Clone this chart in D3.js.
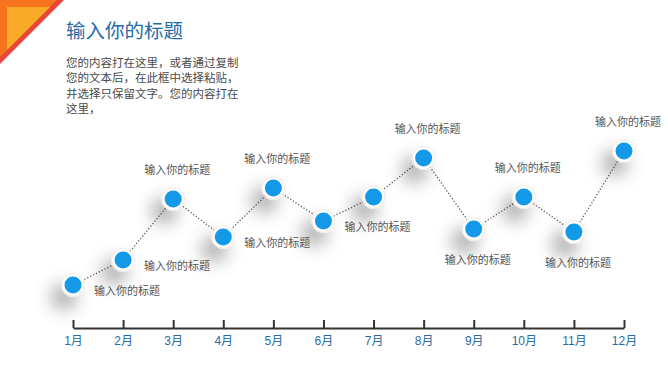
<!DOCTYPE html>
<html>
<head>
<meta charset="utf-8">
<script src="https://cdn.jsdelivr.net/npm/d3@7/dist/d3.min.js"></script>
<style>
  body { margin: 0; background: #fff; }
  svg { display: block; font-family: "Noto Sans CJK SC", "Noto Sans", sans-serif; }
</style>
</head>
<body>
<script>
let months = ["1月", "2月", "3月", "4月", "5月", "6月", "7月", "8月", "9月", "10月", "11月", "12月"];
let values = [7.5, 20, 50.5, 31.5, 56, 39.5, 51.5, 71, 35.5, 51.5, 34, 74.5];
let labelText = "输入你的标题";
let labelPlaces = ["right", "right", "above", "right", "above", "right", "none", "above", "below", "above", "below", "above"];
let title = "输入你的标题";
let bodyLines = [
    "您的内容打在这里，或者通过复制",
    "您的文本后，在此框中选择粘贴，",
    "并选择只保留文字。您的内容打在",
    "这里，"
];

let width = 668, height = 376;
let svg = d3.select("body").append("svg").attr("width", width).attr("height", height);

// corner decoration
svg.append("polygon").attr("points", "0,0 64,0 0,64").attr("fill", "#e9463b");
svg.append("polygon").attr("points", "0,0 57,0 0,57").attr("fill", "#f7731d");
svg.append("polygon").attr("points", "7,7 50,7 7,50").attr("fill", "#f8ab27");

svg.append("text").attr("x", 66).attr("y", 38)
    .attr("font-size", 19.5).attr("fill", "#1f6ca8").text(title);

svg.append("g").selectAll("text").data(bodyLines).join("text")
    .attr("x", 66).attr("y", (d, i) => 67 + i * 15.3)
    .attr("font-size", 11.5).attr("fill", "#4a4a4a").text(d => d);

let x = d3.scalePoint().domain(months).range([73, 624]);
let y = d3.scaleLinear().domain([0, 100]).range([300, 100]);

let defs = svg.append("defs");
let f = defs.append("filter").attr("id", "shadow")
    .attr("x", "-300%").attr("y", "-300%").attr("width", "700%").attr("height", "700%");
f.append("feGaussianBlur").attr("in", "SourceAlpha").attr("stdDeviation", 9).attr("result", "b");
f.append("feOffset").attr("in", "b").attr("dx", -9).attr("dy", 12).attr("result", "o");
f.append("feFlood").attr("flood-color", "#000").attr("flood-opacity", 0.38).attr("result", "c");
f.append("feComposite").attr("in", "c").attr("in2", "o").attr("operator", "in").attr("result", "s");
let m = f.append("feMerge");
m.append("feMergeNode").attr("in", "s");
m.append("feMergeNode").attr("in", "SourceGraphic");

// axis
let xAxis = d3.axisBottom(x).tickSizeInner(-8).tickSizeOuter(0).tickPadding(8);
let axisG = svg.append("g").attr("transform", "translate(0,328)").call(xAxis);
axisG.select(".domain").attr("stroke", "#333").attr("stroke-width", 2);
axisG.selectAll(".tick line").attr("stroke", "#333").attr("stroke-width", 2);
axisG.selectAll(".tick text").attr("font-size", 12).attr("fill", "#2a6aa0")
    .attr("font-family", "Arial, 'Liberation Sans', 'Noto Sans CJK SC', sans-serif");

let data = months.map((mo, i) => ({ month: mo, value: values[i], place: labelPlaces[i] }));

let line = d3.line().x(d => x(d.month)).y(d => y(d.value));
svg.append("path").attr("d", line(data)).attr("fill", "none")
    .attr("stroke", "#555").attr("stroke-width", 1.3).attr("stroke-dasharray", "1.2,2");

let pts = svg.append("g").selectAll("g").data(data).join("g")
    .attr("transform", d => `translate(${x(d.month)},${y(d.value)})`);
pts.append("circle").attr("r", 11.5).attr("fill", "#fbfdff")
    .attr("stroke", "#efe4da").attr("stroke-width", 0.8).attr("filter", "url(#shadow)");
pts.append("circle").attr("r", 8.5).attr("fill", "#1499e9");

svg.append("g").selectAll("text").data(data.filter(d => d.place !== "none")).join("text")
    .attr("x", d => d.place === "right" ? x(d.month) + 21 : x(d.month) + 4)
    .attr("y", d => y(d.value) + (d.place === "right" ? 6 : d.place === "above" ? -29 : 31))
    .attr("dy", "0.35em")
    .attr("text-anchor", d => d.place === "right" ? "start" : "middle")
    .attr("font-size", 11).attr("fill", "#555").text(labelText);
</script>
</body>
</html>
